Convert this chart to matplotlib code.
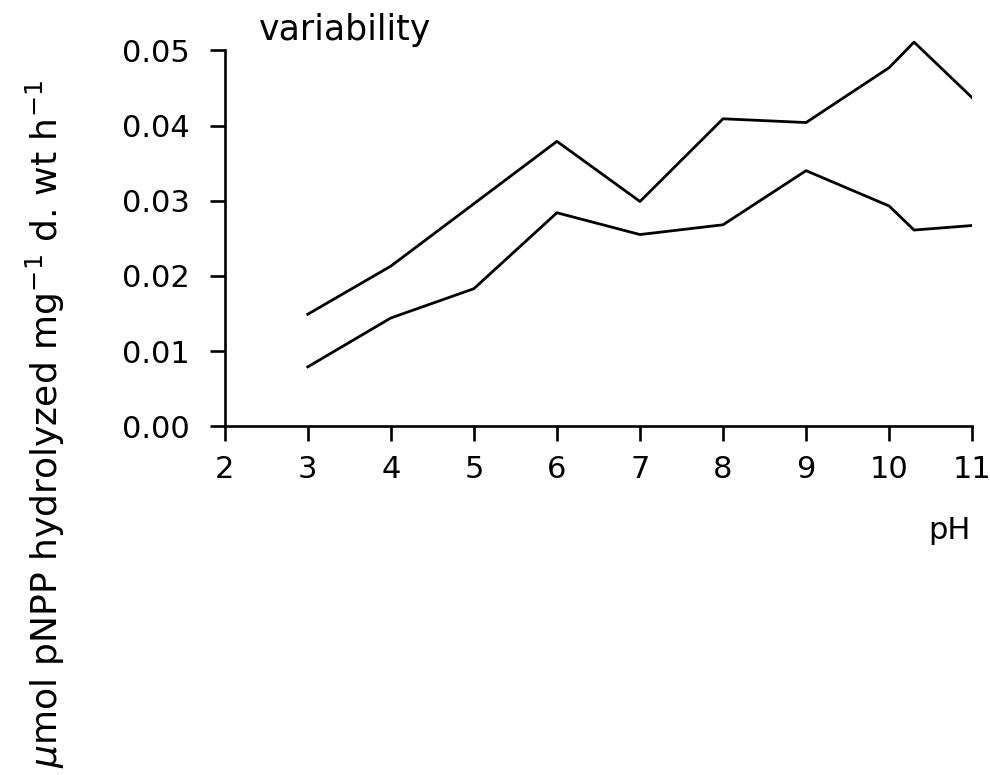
import matplotlib
matplotlib.use("Agg")
import matplotlib.pyplot as plt

upper_x = [3, 4, 5, 6, 7, 8, 9, 10, 10.3, 11]
upper_y = [0.0149, 0.0213, 0.0296, 0.0379, 0.0299, 0.0409, 0.0404, 0.0477, 0.0511, 0.0437]
lower_x = [3, 4, 5, 6, 7, 8, 9, 10, 10.3, 11]
lower_y = [0.0079, 0.0144, 0.0183, 0.0284, 0.0255, 0.0268, 0.0340, 0.0293, 0.0261, 0.0267]
x_ticks = [2, 3, 4, 5, 6, 7, 8, 9, 10, 11]
y_ticks = [0.00, 0.01, 0.02, 0.03, 0.04, 0.05]

plt.rcParams['font.family'] = ['DejaVu Sans']
fig = plt.figure(figsize=(9.9, 7.75), dpi=100)
ax = fig.add_axes([0.227, 0.450, 0.755, 0.50])
ax.plot(upper_x, upper_y, color='black', lw=2.0)
ax.plot(lower_x, lower_y, color='black', lw=2.0)
ax.set_xlim(2, 11)
ax.set_ylim(0, 0.05 * 0.50 / 0.485)
ax.spines['top'].set_visible(False)
ax.spines['right'].set_visible(False)
ax.spines['left'].set_bounds(0, 0.05)
ax.spines['left'].set_linewidth(1.9)
ax.spines['bottom'].set_linewidth(1.9)
ax.set_xticks(x_ticks)
ax.set_yticks(y_ticks)
ax.set_yticklabels([f"{v:.2f}" for v in y_ticks])
ax.tick_params(axis='both', direction='out', length=11, width=1.9, labelsize=22)
ax.tick_params(axis='y', pad=14)
ax.tick_params(axis='x', pad=10)
fig.text(0.262, 0.948, "variability", fontsize=25, ha='left', va='baseline')
fig.text(0.980, 0.316, "pH", fontsize=22, ha='right', va='center')
fig.text(0.046, 0.453, r"$\mu$mol pNPP hydrolyzed mg$^{-1}$ d. wt h$^{-1}$",
         fontsize=26, rotation=90, ha='center', va='center')
fig.savefig("out.png", dpi=100)
